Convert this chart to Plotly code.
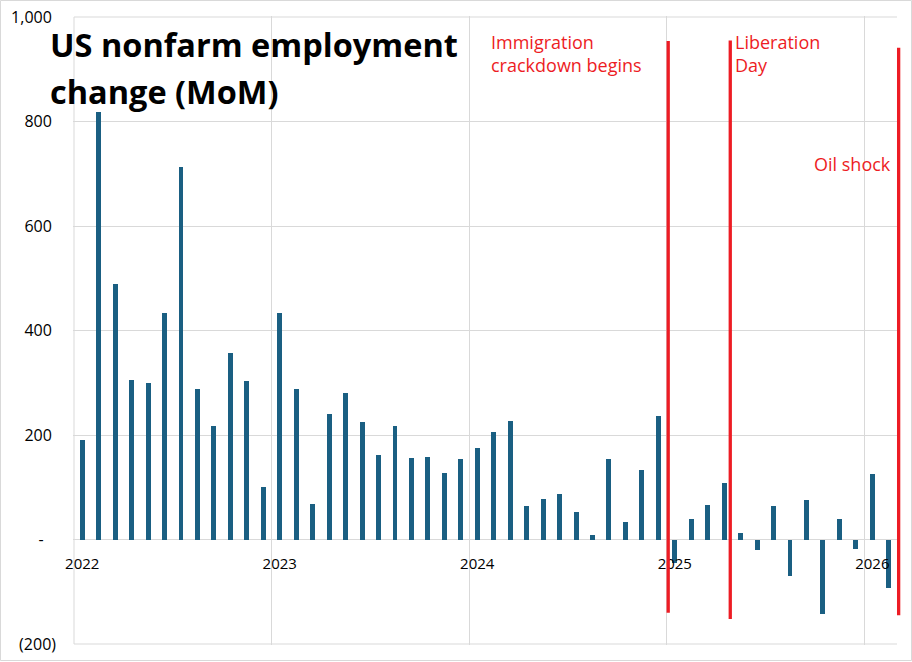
import plotly.graph_objects as go

# ---- data ----
months_index = list(range(50))  # Jan 2022 .. Feb 2026
values = [190, 818, 489, 306, 299, 433, 713, 289, 218, 356, 303, 100,
          433, 289, 68, 240, 280, 225, 161, 217, 156, 158, 127, 154,
          175, 205, 226, 64, 77, 87, 52, 8, 154, 33, 133, 236,
          -45, 40, 66, 108, 12, -21, 64, -70, 75, -142, 40, -19,
          125, -93]
year_labels = ["2022", "2023", "2024", "2025", "2026"]
year_starts = [0, 12, 24, 36, 48]
y_tickvals = [-200, 0, 200, 400, 600, 800, 1000]
y_ticktext = ["(200)", "-\u00a0\u00a0\u00a0", "200\u00a0", "400\u00a0", "600\u00a0", "800\u00a0", "1,000\u00a0"]
event_labels = ["Immigration<br>crackdown begins", "Liberation<br>Day", "Oil shock"]
event_x = [36.1, 39.87, 50.1]
event_top = [954, 955, 941]
event_bottom = [-140, -152, -145]

# ---- layout constants ----
W, H = 912, 662
L, R, T, B = 73, 897, 16, 645          # plot area in px (1px padding so edge grids show)
PXM = (897 - 74) / 50.0                # px per month
PXV = (644 - 17) / 1200.0              # px per unit
XMIN, XMAX = -1 / PXM, 50
YMIN, YMAX = -200 - 1 / PXV, 1000 + 1 / PXV
BAR = "#1A5F82"
RED = "#ED1C24"
GRID = "#D9D9D9"
FONT = "Open Sans"


def px_x(p):
    return (p - L) / (R - L)


def px_y(p):
    return (B - p) / (B - T)


def dx(v):
    return (v - XMIN) / (XMAX - XMIN)


def dy(v):
    return (v - YMIN) / (YMAX - YMIN)


fig = go.Figure()
fig.add_trace(go.Bar(
    x=[m + 0.5 for m in months_index],
    y=values,
    width=0.3,
    marker=dict(color=BAR, line=dict(width=0)),
    hoverinfo="skip",
))

shapes = []
# frame grid lines (left, top, bottom) of the plot area
shapes.append(dict(type="line", xref="x", yref="y", x0=0, x1=0, y0=-200, y1=1000,
                   line=dict(color=GRID, width=1), layer="below"))
shapes.append(dict(type="line", xref="x", yref="y", x0=0, x1=XMAX, y0=1000, y1=1000,
                   line=dict(color=GRID, width=1), layer="below"))
shapes.append(dict(type="line", xref="x", yref="y", x0=0, x1=XMAX, y0=-200, y1=-200,
                   line=dict(color=GRID, width=1), layer="below"))
for ex, et, eb in zip(event_x, event_top, event_bottom):
    shapes.append(dict(type="line", xref="paper", yref="paper",
                       x0=dx(ex), x1=dx(ex), y0=dy(eb), y1=dy(et),
                       line=dict(color=RED, width=3.3), layer="above"))
# outer border
shapes.append(dict(type="rect", xref="paper", yref="paper",
                   x0=px_x(0.5), x1=px_x(911.5), y0=px_y(660.5), y1=px_y(0.5),
                   line=dict(color=GRID, width=1), fillcolor="rgba(0,0,0,0)", layer="below"))

annotations = [
    dict(text="US nonfarm employment", x=px_x(48), y=px_y(45), xref="paper", yref="paper",
         xanchor="left", yanchor="middle", showarrow=False,
         font=dict(family=FONT, size=32.5, color="#000000", weight=700)),
    dict(text="change (MoM)", x=px_x(48), y=px_y(91), xref="paper", yref="paper",
         xanchor="left", yanchor="middle", showarrow=False,
         font=dict(family=FONT, size=32.5, color="#000000", weight=700)),
    dict(text=event_labels[0], x=px_x(489), y=px_y(53.5), xref="paper", yref="paper",
         xanchor="left", yanchor="middle", align="left", showarrow=False,
         font=dict(family=FONT, size=18, color=RED)),
    dict(text=event_labels[1], x=px_x(732.5), y=px_y(53.5), xref="paper", yref="paper",
         xanchor="left", yanchor="middle", align="left", showarrow=False,
         font=dict(family=FONT, size=18, color=RED)),
    dict(text=event_labels[2], x=px_x(893), y=px_y(164), xref="paper", yref="paper",
         xanchor="right", yanchor="middle", align="right", showarrow=False,
         font=dict(family=FONT, size=18, color=RED)),
]

fig.update_layout(
    width=W, height=H,
    margin=dict(l=L, r=W - R, t=T, b=H - B, pad=0, autoexpand=False),
    paper_bgcolor="white", plot_bgcolor="white",
    showlegend=False,
    bargap=0,
    shapes=shapes,
    annotations=annotations,
    font=dict(family=FONT, size=15, color="#000000"),
    xaxis=dict(
        range=[XMIN, XMAX],
        tickvals=[s + 0.5 for s in year_starts],
        ticktext=year_labels,
        showgrid=False,
        zeroline=False,
        showline=False,
        ticks="",
        anchor="free",
        position=dy(0),
        ticklabelstandoff=13,
        automargin=False,
        tickfont=dict(family=FONT, size=15, color="#000000"),
        minor=dict(tickvals=year_starts, showgrid=True, gridcolor=GRID, gridwidth=1, ticks=""),
        fixedrange=True,
    ),
    yaxis=dict(
        range=[YMIN, YMAX],
        tickvals=y_tickvals,
        ticktext=y_ticktext,
        showgrid=True, gridcolor=GRID, gridwidth=1,
        zeroline=False,
        showline=False,
        ticks="",
        ticklabelstandoff=16,
        automargin=False,
        tickfont=dict(family=FONT, size=16, color="#000000"),
        fixedrange=True,
    ),
)

fig.write_html("out.html")
